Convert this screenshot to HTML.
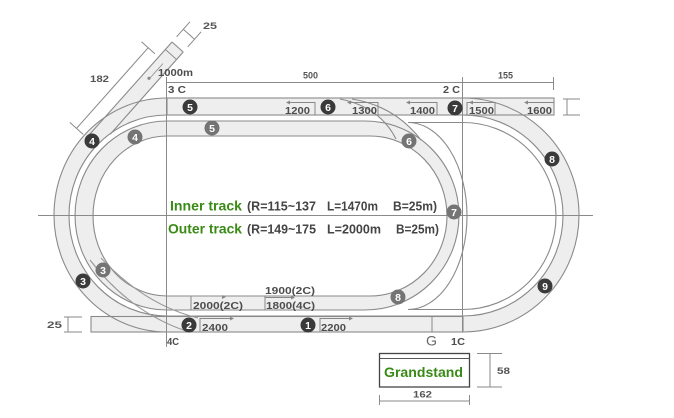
<!DOCTYPE html>
<html><head><meta charset="utf-8"><style>
html,body{margin:0;padding:0;background:#fff;}
svg{display:block;}
text{font-family:"Liberation Sans",Arial,sans-serif;}
</style></head><body>
<svg width="674" height="418" viewBox="0 0 674 418" xmlns="http://www.w3.org/2000/svg">
<rect width="674" height="418" fill="#fff"/>
<!-- fills -->
<g fill="#eeeeee" stroke="none">
<path fill-rule="evenodd" d="M167,98 H463 A116,117 0 0 1 463,332 H167 A113,117 0 0 1 167,98 Z M167,115 H463 A100,100.5 0 0 1 463,316 H167 A98,100.5 0 0 1 167,115 Z"/>
<rect x="167" y="98" width="387" height="17"/>
<rect x="91" y="316.5" width="372" height="15.5"/>
<polygon points="172,42 183.2,52 110.2,134.3 87,137.3"/>
<path fill-rule="evenodd" d="M167,121 H365 A94,94.5 0 0 1 365,310 H167 A92,94.5 0 0 1 167,121 Z M167,136 H370 A77,80 0 0 1 370,296 H167 A74,80 0 0 1 167,136 Z"/>
<path d="M340,99 L352,99 Q395,106 421,140 L396,139 Q380,107 340,99 Z"/>
</g>
<!-- track lines -->
<g fill="none" stroke="#8a8a8a" stroke-width="1.1">
<path d="M167,98 H463 A116,117 0 0 1 463,332 H167 A113,117 0 0 1 167,98 Z"/>
<path d="M167,115 H463 A100,100.5 0 0 1 463,316 H167 A98,100.5 0 0 1 167,115 Z"/>
<path d="M167,121 H365 A94,94.5 0 0 1 365,310 H167 A92,94.5 0 0 1 167,121 Z"/>
<path d="M167,136 H370 A77,80 0 0 1 370,296 H167 A74,80 0 0 1 167,136 Z"/>
<rect x="167" y="98" width="387" height="17"/>
<rect x="91" y="316.5" width="372" height="15.5"/>
<path d="M408,122.5 A59,93.5 0 0 1 408,309.5"/>
<path d="M408,122.5 H463 A93,93.5 0 0 1 463,309.5 H408"/>
<path d="M352,99 Q395,106 421,140"/>
<path d="M340,99 Q380,107 396,139"/>
<path d="M90,260 Q130,312 186,331" stroke="#999"/>
<path d="M101,258 Q145,305 198,318" stroke="#999"/>
<!-- chute -->
<line x1="172" y1="42" x2="87" y2="137.3"/>
<line x1="183.2" y1="52" x2="110.2" y2="134.3"/>
<line x1="172" y1="42" x2="183.2" y2="52"/>
<line x1="165.4" y1="49.5" x2="176.6" y2="59.5" stroke-width="0.9"/>
<line x1="163" y1="63.5" x2="150" y2="78" stroke-width="0.8"/>
</g>
<circle cx="149" cy="78.3" r="1.6" fill="#888"/>
<!-- axes and dimensions -->
<g fill="none" stroke="#8a8a8a" stroke-width="1">
<line x1="38" y1="215.5" x2="593" y2="215.5"/>
<line x1="166.5" y1="77" x2="166.5" y2="347"/>
<line x1="462.5" y1="77" x2="462.5" y2="332"/>
<line x1="166.5" y1="82.5" x2="554" y2="82.5"/>
<line x1="553.5" y1="77" x2="553.5" y2="90"/>
<line x1="567" y1="99" x2="567" y2="115"/>
<line x1="563" y1="99" x2="580" y2="99"/>
<line x1="563" y1="115" x2="580" y2="115"/>
<line x1="68" y1="317" x2="68" y2="332"/>
<line x1="64" y1="317" x2="82" y2="317"/>
<line x1="64" y1="332" x2="82" y2="332"/>
<!-- 182 -->
<line x1="148.2" y1="47.7" x2="76.5" y2="128.4"/>
<line x1="141.5" y1="41.7" x2="154.9" y2="53.7"/>
<line x1="69.8" y1="122.4" x2="83.2" y2="134.4"/>
<!-- 25 top -->
<line x1="176.6" y1="36.8" x2="189.9" y2="21.8"/>
<line x1="187.8" y1="46.8" x2="201.1" y2="31.8"/>
<line x1="183.3" y1="29.3" x2="194.5" y2="39.3"/>
<!-- grandstand dims -->
<line x1="490" y1="353.5" x2="490" y2="387"/>
<line x1="477" y1="353.5" x2="502" y2="353.5"/>
<line x1="477" y1="387" x2="502" y2="387"/>
<line x1="379.5" y1="401" x2="469.5" y2="401"/>
<line x1="379.5" y1="395" x2="379.5" y2="405"/>
<line x1="469.5" y1="395" x2="469.5" y2="405"/>
</g>
<!-- label boxes -->
<g fill="none" stroke="#888" stroke-width="1">
<path d="M287,102.5 H315 V115"/>
<path d="M348,102.5 H378 V115"/>
<path d="M407,102.5 H437 V115"/>
<path d="M467,115 V102.5 H495 V115"/>
<path d="M525,102.5 H554"/>
<path d="M200,332 V318.5 H231"/>
<path d="M320,332 V318.5 H350"/>
<path d="M432,316.5 V332"/>
<path d="M191,296 V310"/>
<path d="M265,296 V310"/>
<path d="M265,297.5 H292"/>
</g>
<g fill="#888">
<polygon points="286,102.5 290,100.5 290,104.5"/>
<polygon points="347,102.5 351,100.5 351,104.5"/>
<polygon points="406,102.5 410,100.5 410,104.5"/>
<polygon points="469,102.5 473,100.5 473,104.5"/>
<polygon points="524,102.5 528,100.5 528,104.5"/>
<polygon points="234,318.5 230,316.5 230,320.5"/>
<polygon points="353,318.5 349,316.5 349,320.5"/>
<polygon points="226,297 222,295 222,299"/>
<polygon points="295,297.5 291,295.5 291,299.5"/>
</g>
<!-- grandstand -->
<rect x="379.5" y="353.5" width="90" height="33.5" fill="#fff" stroke="#444" stroke-width="1.3"/>
<line x1="379.5" y1="358.5" x2="469.5" y2="358.5" stroke="#555" stroke-width="1"/>
<!-- markers -->
<g fill="#3a3a3a">
<circle cx="92" cy="141" r="7.5"/><circle cx="190" cy="107" r="7.5"/><circle cx="328" cy="107" r="7.5"/>
<circle cx="455" cy="108" r="7.5"/><circle cx="552" cy="159" r="7.5"/><circle cx="545" cy="286" r="7.5"/>
<circle cx="308" cy="325" r="7.5"/><circle cx="189" cy="325" r="7.5"/><circle cx="83" cy="281" r="7.5"/>
</g>
<g fill="#747474">
<circle cx="135" cy="137" r="7.5"/><circle cx="212" cy="128" r="7.5"/><circle cx="409" cy="141" r="7.5"/>
<circle cx="454" cy="212" r="7.5"/><circle cx="398" cy="297" r="7.5"/><circle cx="103" cy="270" r="7.5"/>
</g>
<g fill="#fff" font-size="10.5" font-weight="bold" text-anchor="middle">
<text x="92" y="144.8">4</text><text x="190" y="110.8">5</text><text x="328" y="110.8">6</text>
<text x="455" y="111.8">7</text><text x="552" y="162.8">8</text><text x="545" y="289.8">9</text>
<text x="308" y="328.8">1</text><text x="189" y="328.8">2</text><text x="83" y="284.8">3</text>
<text x="135" y="140.8">4</text><text x="212" y="131.8">5</text><text x="409" y="144.8">6</text>
<text x="454" y="215.8">7</text><text x="398" y="300.8">8</text><text x="103" y="273.8">3</text>
</g>
<!-- small labels -->
<g fill="#4d4d4d" font-size="10" font-weight="bold">
<text x="285" y="114" textLength="25" lengthAdjust="spacingAndGlyphs">1200</text>
<text x="352" y="114" textLength="25" lengthAdjust="spacingAndGlyphs">1300</text>
<text x="410" y="114" textLength="25" lengthAdjust="spacingAndGlyphs">1400</text>
<text x="469" y="114" textLength="25" lengthAdjust="spacingAndGlyphs">1500</text>
<text x="527" y="114" textLength="25" lengthAdjust="spacingAndGlyphs">1600</text>
<text x="202" y="331" textLength="26" lengthAdjust="spacingAndGlyphs">2400</text>
<text x="321" y="331" textLength="25" lengthAdjust="spacingAndGlyphs">2200</text>
<text x="193" y="309" textLength="50" lengthAdjust="spacingAndGlyphs">2000(2C)</text>
<text x="266" y="309" textLength="49" lengthAdjust="spacingAndGlyphs">1800(4C)</text>
<text x="265" y="294" textLength="50" lengthAdjust="spacingAndGlyphs">1900(2C)</text>
<text x="158" y="76" textLength="35" lengthAdjust="spacingAndGlyphs">1000m</text>
<text x="168" y="93" textLength="18" lengthAdjust="spacingAndGlyphs">3 C</text>
<text x="443" y="93" textLength="17" lengthAdjust="spacingAndGlyphs">2 C</text>
<text x="167" y="345" textLength="12" lengthAdjust="spacingAndGlyphs">4C</text>
<text x="451" y="345" textLength="14" lengthAdjust="spacingAndGlyphs">1C</text>
</g>
<g fill="#555" font-size="9.5" font-weight="bold">
<text x="303" y="78.5" textLength="15" lengthAdjust="spacingAndGlyphs">500</text>
<text x="498" y="78.5" textLength="15" lengthAdjust="spacingAndGlyphs">155</text>
<text x="90" y="82" textLength="19" lengthAdjust="spacingAndGlyphs">182</text>
<text x="203" y="29" textLength="14" lengthAdjust="spacingAndGlyphs">25</text>
<text x="47" y="328" textLength="15" lengthAdjust="spacingAndGlyphs">25</text>
<text x="497" y="374" textLength="13" lengthAdjust="spacingAndGlyphs">58</text>
<text x="413" y="397.5" textLength="19" lengthAdjust="spacingAndGlyphs">162</text>
</g>
<text x="426" y="345.5" font-size="14" fill="#666" textLength="11" lengthAdjust="spacingAndGlyphs">G</text>
<!-- center text -->
<g font-weight="bold">
<text x="170" y="210.5" font-size="14" fill="#3a8a16" textLength="72" lengthAdjust="spacingAndGlyphs">Inner track</text>
<text x="247" y="210.5" font-size="12.5" fill="#444" textLength="69" lengthAdjust="spacingAndGlyphs">(R=115~137</text>
<text x="327" y="210.5" font-size="12.5" fill="#444" textLength="51" lengthAdjust="spacingAndGlyphs">L=1470m</text>
<text x="393" y="210.5" font-size="12.5" fill="#444" textLength="44" lengthAdjust="spacingAndGlyphs">B=25m)</text>
<text x="168" y="233.3" font-size="14" fill="#3a8a16" textLength="74" lengthAdjust="spacingAndGlyphs">Outer track</text>
<text x="247" y="233.3" font-size="12.5" fill="#444" textLength="69" lengthAdjust="spacingAndGlyphs">(R=149~175</text>
<text x="327" y="233.3" font-size="12.5" fill="#444" textLength="54" lengthAdjust="spacingAndGlyphs">L=2000m</text>
<text x="396" y="233.3" font-size="12.5" fill="#444" textLength="43" lengthAdjust="spacingAndGlyphs">B=25m)</text>
<text x="384" y="377" font-size="14" fill="#3a8a16" textLength="79" lengthAdjust="spacingAndGlyphs">Grandstand</text>
</g>
</svg>
</body></html>
